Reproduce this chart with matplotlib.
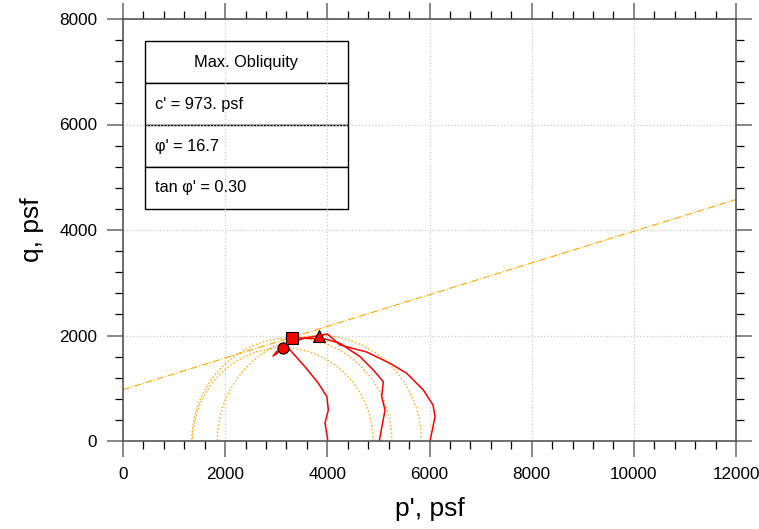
import matplotlib
matplotlib.use('Agg')
import matplotlib.pyplot as plt
from matplotlib.ticker import MultipleLocator
import numpy as np

plt.rcParams['font.family'] = ['Liberation Sans', 'DejaVu Sans']

# stress paths (p', q) in psf
path1_p = [4010, 3955, 4020, 3990, 3825, 3565, 3270, 3130, 3000, 2940]
path1_q = [0, 340, 590, 840, 1095, 1405, 1725, 1765, 1690, 1610]
path2_p = [5017, 5129, 5064, 5096, 4900, 4640, 4248, 3954, 3303, 3171, 2995]
path2_q = [0, 588, 840, 1124, 1346, 1598, 1852, 1934, 1958, 1806, 1650]
path3_p = [6010, 6108, 6069, 5879, 5554, 5227, 4771, 4248, 4000, 3845, 3562, 3269, 3073, 2975]
path3_q = [0, 461, 682, 967, 1283, 1473, 1687, 1820, 2030, 1998, 1953, 1858, 1725, 1630]

# max obliquity points
mo_p = [3130, 3305, 3845]
mo_q = [1765, 1958, 1998]
mo_markers = ['o', 's', '^']

# failure envelope
c_eff = 973.0
tan_phi = 0.3003
env_p = [0, 12000]

table_rows = ["Max. Obliquity", "c' = 973. psf", "\u03c6' = 16.7", "tan \u03c6' = 0.30"]

fig = plt.figure(figsize=(7.59, 5.29), dpi=100)
ax = fig.add_axes([123 / 759, 1 - 441 / 529, 613 / 759, 422 / 529])

# Mohr circles at max obliquity
t = np.linspace(0, np.pi, 200)
for p, q in zip(mo_p, mo_q):
    ax.plot(p + q * np.cos(t), q * np.sin(t), linestyle=':', color='orange', linewidth=1.0)

ax.plot(env_p, [c_eff + tan_phi * p for p in env_p], linestyle='-.', color='orange', linewidth=0.8)

for pp, qq in [(path1_p, path1_q), (path2_p, path2_q), (path3_p, path3_q)]:
    ax.plot(pp, qq, color='red', linewidth=1.1)

for p, q, m in zip(mo_p, mo_q, mo_markers):
    ax.plot(p, q, marker=m, markersize=8, color='red', markeredgecolor='black', markeredgewidth=0.8, linestyle='')

ax.set_xlim(0, 12000)
ax.set_ylim(0, 8000)
ax.xaxis.set_major_locator(MultipleLocator(2000))
ax.xaxis.set_minor_locator(MultipleLocator(400))
ax.yaxis.set_major_locator(MultipleLocator(2000))
ax.yaxis.set_minor_locator(MultipleLocator(400))
ax.grid(True, which='major', linestyle=':', color='#cccccc', linewidth=0.9)
ax.tick_params(which='both', direction='out', top=True, right=True, labeltop=False, labelright=False)
ax.tick_params(which='major', length=11.5, width=1.1, color='#666666', labelsize=12.3, pad=7)
ax.tick_params(which='minor', length=5.8, width=0.9, color='black')
for s in ax.spines.values():
    s.set_color('#555555')
    s.set_linewidth(1.2)

ax.set_xlabel("p', psf", fontsize=19, labelpad=11)
ax.set_ylabel("q, psf", fontsize=19, labelpad=11)

tbl = ax.table(cellText=[[r] for r in table_rows], bbox=[0.0359, 0.5498, 0.331, 0.398], cellLoc='left')
tbl.auto_set_font_size(False)
for (r, c), cell in tbl.get_celld().items():
    cell.set_fontsize(11.8)
    cell.set_linewidth(1.0)
    cell.set_edgecolor('black')
    cell.PAD = 0.05
    if r == 0:
        cell.get_text().set_horizontalalignment('center')
        cell._loc = 'center'

fig.savefig('out.png', dpi=100)
